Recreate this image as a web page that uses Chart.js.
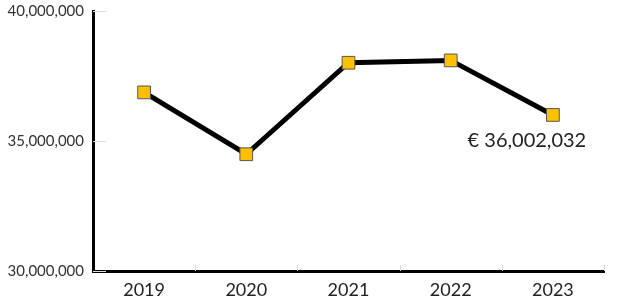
<!DOCTYPE html>
<html>
<head>
<meta charset="utf-8">
<script src="https://cdn.jsdelivr.net/npm/chart.js@4/dist/chart.umd.min.js"></script>
<style>
  html, body { margin: 0; padding: 0; background: #fff; }
  #wrap { width: 625px; height: 300px; }
</style>
</head>
<body>
<div id="wrap"><canvas id="lineChart"></canvas></div>
<script>
const years = ["2019", "2020", "2021", "2022", "2023"];
const revenue = [36870000, 34490000, 38010000, 38100000, 36002032];
const yTicks = [30000000, 35000000, 40000000];

// short inward tick marks + label on the last point
const marks = {
  id: 'marks',
  beforeDatasetsDraw(chart) {
    const ctx = chart.ctx, x = chart.scales.x, y = chart.scales.y;
    ctx.save();
    ctx.strokeStyle = '#dddddd';
    ctx.lineWidth = 1;
    yTicks.forEach(v => {
      const py = Math.round(y.getPixelForValue(v)) + 0.5;
      ctx.beginPath(); ctx.moveTo(x.left, py); ctx.lineTo(x.left + 13, py); ctx.stroke();
    });
    const half = (x.getPixelForValue(1) - x.getPixelForValue(0)) / 2;
    years.forEach((_, i) => {
      const px = Math.round(x.getPixelForValue(i) + half) + 0.5;
      ctx.beginPath(); ctx.moveTo(px, y.bottom); ctx.lineTo(px, y.bottom - 6); ctx.stroke();
    });
    ctx.restore();
  },
  afterDatasetsDraw(chart) {
    const ctx = chart.ctx;
    const last = revenue.length - 1;
    const pt = chart.getDatasetMeta(0).data[last];
    ctx.save();
    ctx.font = '20px Lato';
    ctx.fillStyle = '#222';
    ctx.textAlign = 'center';
    ctx.textBaseline = 'middle';
    ctx.fillText('€ ' + revenue[last].toLocaleString('en-US'), pt.x - 26, pt.y + 26);
    ctx.restore();
  }
};

new Chart(document.getElementById("lineChart"), {
  type: 'line',
  data: {
    labels: years,
    datasets: [{
      data: revenue,
      borderColor: '#000',
      borderWidth: 5,
      tension: 0,
      pointStyle: 'rect',
      pointRadius: 9,
      pointHoverRadius: 9,
      pointBackgroundColor: '#FFC000',
      pointBorderColor: '#555',
      pointBorderWidth: 1
    }]
  },
  options: {
    responsive: true,
    maintainAspectRatio: false,
    animation: false,
    layout: { padding: { top: 11, right: 21, left: 0, bottom: 0 } },
    plugins: { legend: { display: false }, tooltip: { enabled: false } },
    scales: {
      x: {
        offset: true,
        grid: { display: false, drawTicks: false },
        border: { display: true, color: '#000', width: 3 },
        ticks: { color: '#222', padding: 8, font: { family: 'Lato', size: 18 } },
        afterFit(s) { s.height = 29; }
      },
      y: {
        min: 30000000,
        max: 40000000,
        afterBuildTicks(s) { s.ticks = yTicks.map(v => ({ value: v })); },
        grid: { display: false, drawTicks: false },
        border: { display: true, color: '#000', width: 3 },
        ticks: {
          color: '#333',
          padding: 9,
          font: { family: 'Lato', size: 15 },
          callback: v => v.toLocaleString('en-US')
        },
        afterFit(s) { s.width = 93; s.paddingTop = 0; s.paddingBottom = 0; }
      }
    }
  },
  plugins: [marks]
});
</script>
</body>
</html>
